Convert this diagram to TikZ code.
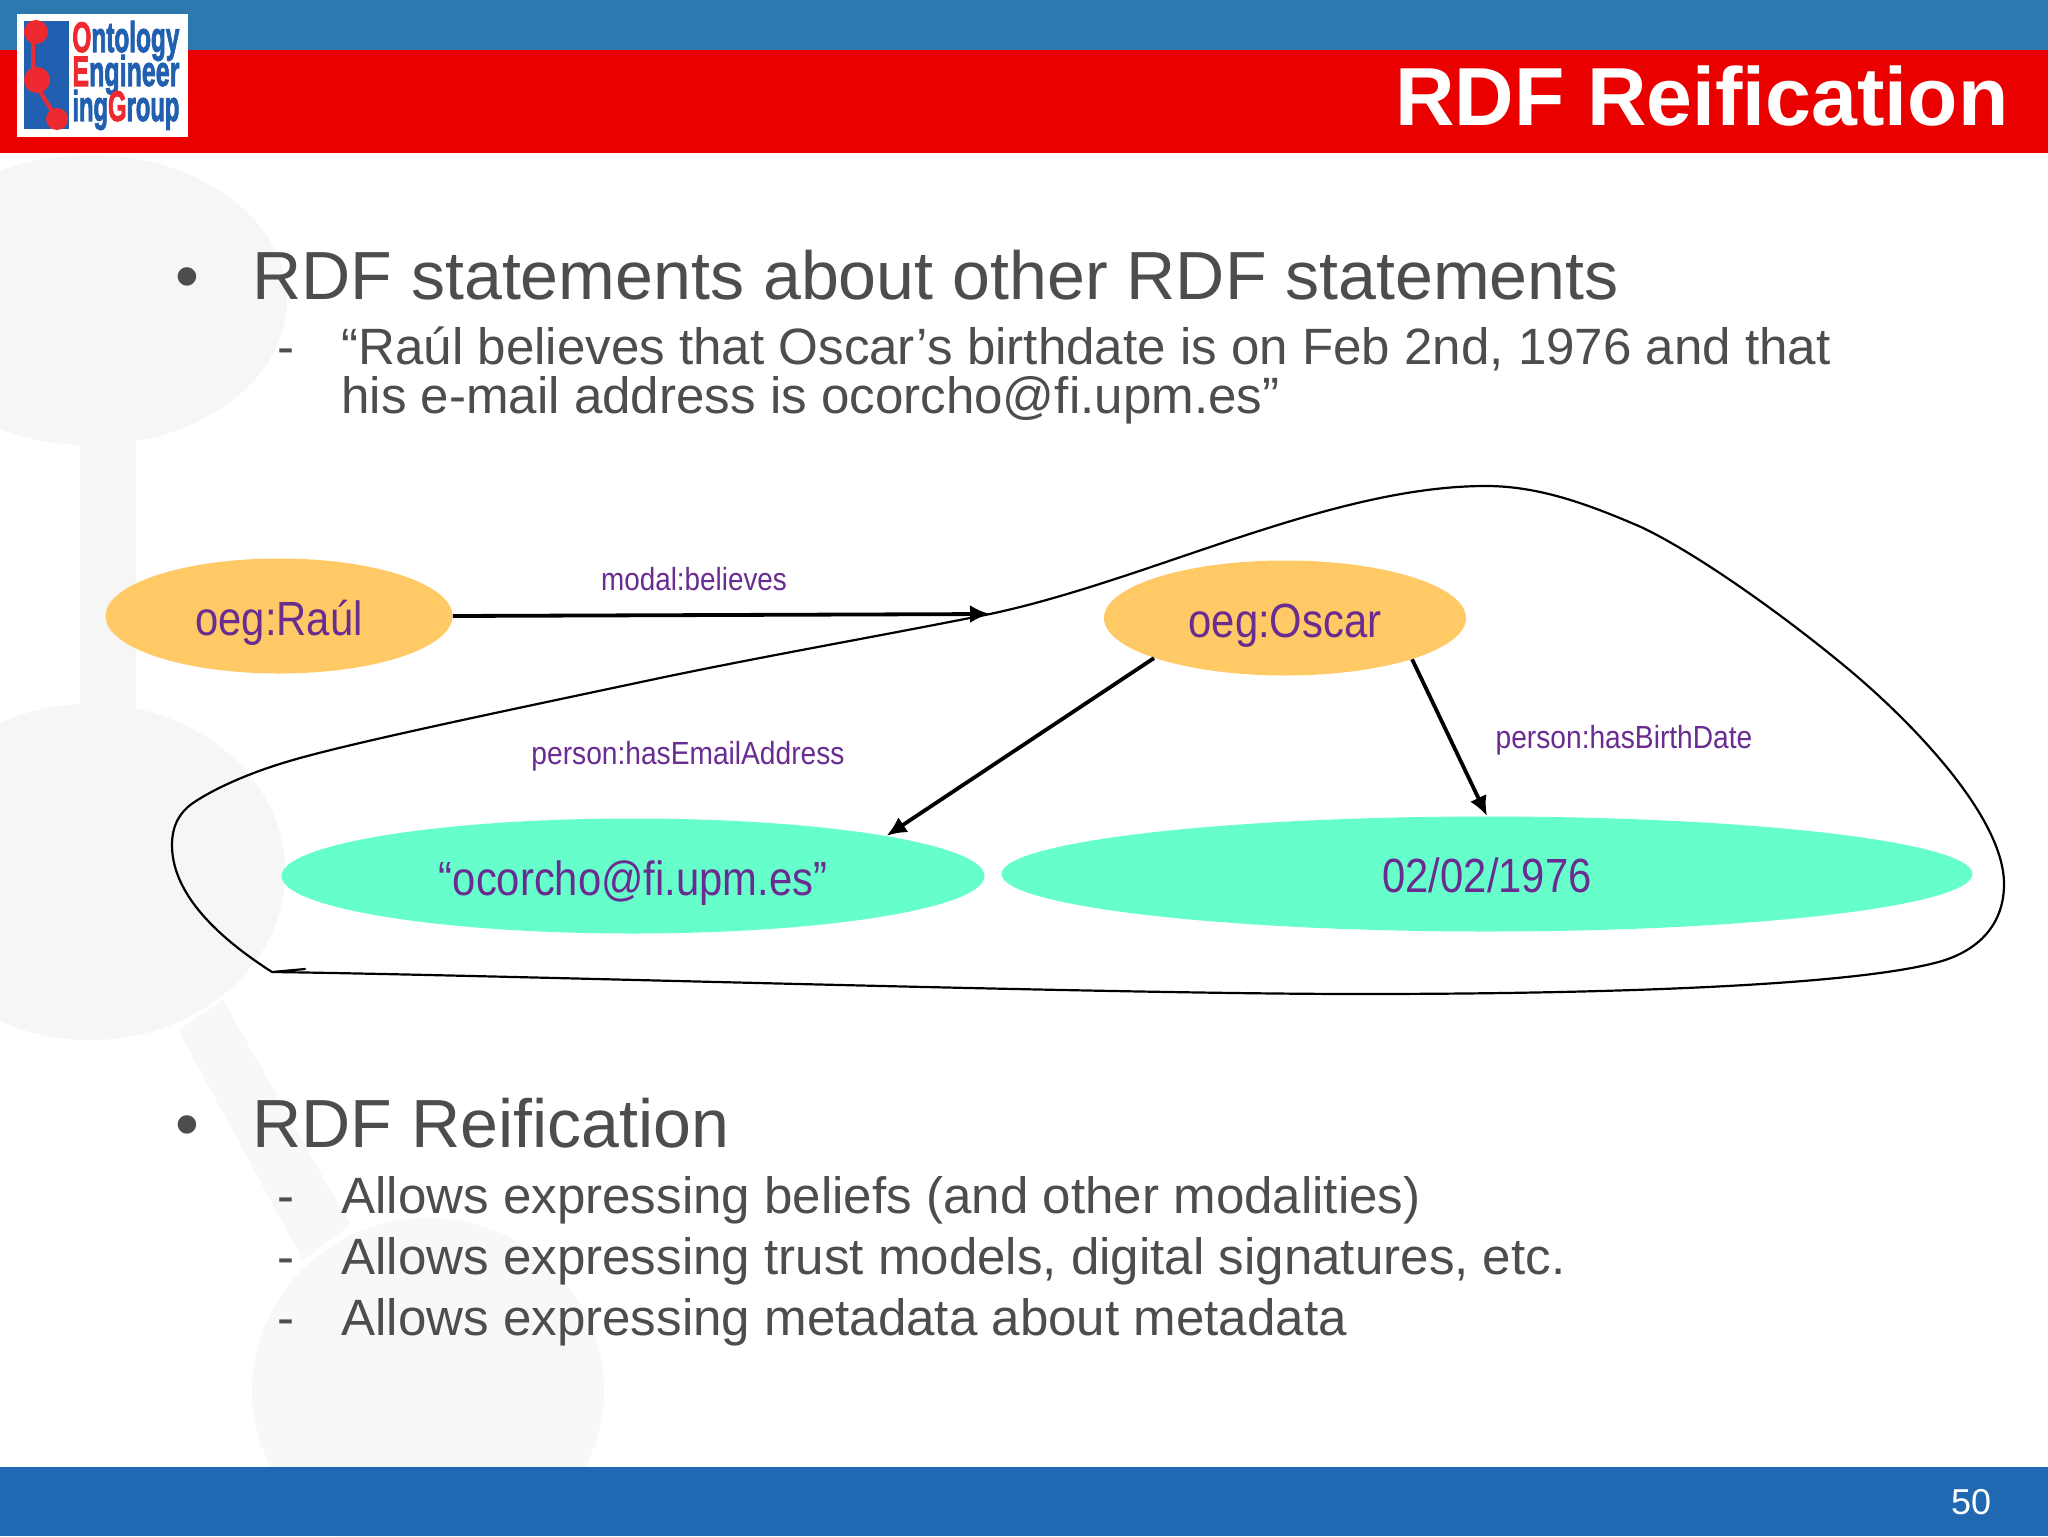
\documentclass[tikz,border=0pt]{standalone}
\usepackage{fontspec}
\usepackage{graphicx}
\setmainfont{Liberation Sans}
\newfontfamily\logof[BoldFeatures={FakeBold=2.5}]{Liberation Sans}
\usetikzlibrary{shapes.geometric,arrows.meta}
\definecolor{topblue}{HTML}{2E78B0}
\definecolor{botblue}{HTML}{2168B2}
\definecolor{hdred}{HTML}{EB0000}
\definecolor{wm}{HTML}{F7F6F7}
\definecolor{wmb}{HTML}{F9F8F9}
\definecolor{bodygray}{HTML}{4D4D4D}
\definecolor{purp}{HTML}{6A2C91}
\definecolor{orangefill}{HTML}{FFC966}
\definecolor{tealfill}{HTML}{66FFCC}
\definecolor{logoblue}{HTML}{2160B0}
\definecolor{logored}{HTML}{EE2A30}
\newcommand{\fs}[1]{\fontsize{#1pt}{#1pt}\selectfont}
\newcommand{\cond}[2]{\scalebox{#1}[1]{#2}}
\newcommand{\lowered}[2]{\raisebox{-#1pt}[0pt][0pt]{\scalebox{0.87}[1]{#2}}}
\newcommand{\logoline}[1]{\resizebox{53.5pt}{15.5pt}{\logof\bfseries #1}}
\tikzset{
  x=0.5pt,y=-0.5pt,
  body/.style={anchor=base west,inner sep=0pt,text=bodygray},
  lvlone/.style={body,font=\fs{34.05}},
  lvltwo/.style={body,font=\fs{25.55}},
  res/.style={ellipse,draw=none,fill=orangefill,text=purp,inner sep=0pt,minimum height=57.5pt,font=\fs{24}},
  lit/.style={res,fill=tealfill},
  prop/.style={text=purp,inner sep=0pt,font=\fs{16}},
  conn/.style={line width=1.9pt,-{Latex[length=10pt,width=9pt]}},
  sketch/.style={line width=1.1pt,line cap=round,line join=round},
}
\begin{document}
\begin{tikzpicture}
\useasboundingbox (0,0) rectangle (2048,1536);
\fill[white] (0,0) rectangle (2048,1536);
% watermark
\fill[wm] (90,300) ellipse [x radius=197,y radius=145];
\fill[wm] (80,430) rectangle (136,720);
\fill[wm] (90,872) ellipse [x radius=195,y radius=168];
\fill[wmb] (178,1030) -- (223,1000) -- (350,1225) -- (303,1260) -- cycle;
\fill[wmb] (428,1390) ellipse [x radius=176,y radius=172];
% bands
\fill[topblue] (0,0) rectangle (2048,50);
\fill[hdred] (0,50) rectangle (2048,153);
\fill[botblue] (0,1467) rectangle (2048,1536);
% logo
\fill[white] (17,14) rectangle (188,137);
\fill[logoblue] (24,21) rectangle (69,129);
\draw[logored,line width=2pt] (33,32) -- (33,80) -- (57,119);
\fill[logored] (36,32) circle [radius=12];
\fill[logored] (37,80) circle [radius=13];
\fill[logored] (57,119) circle [radius=11];
\node (l1) [anchor=west,inner sep=0pt,text=logoblue] at (72,41) {\logoline{\textcolor{logored}{O}ntology}};
\node (l2) [anchor=west,inner sep=0pt,text=logoblue] at (72,75) {\logoline{\textcolor{logored}{E}ngineer}};
\node (l3) [anchor=west,inner sep=0pt,text=logoblue] at (72,110) {\logoline{ing\textcolor{logored}{G}roup}};
% header
\node (title) [anchor=base east,inner sep=0pt,text=white,font=\fs{41.2}\bfseries] at (2009,126) {RDF Reification};
\node (pageno) [inner sep=0pt,text=white,font=\fs{18}] at (1971,1502) {50};
% body
\node (b1) [lvlone] at (175,299) {•};
\node (t1) [lvlone] at (252,299) {RDF statements about other RDF statements};
\node (d1) [lvltwo] at (277,364) {-};
\node (t2) [lvltwo] at (341,364) {“Raúl believes that Oscar’s birthdate is on Feb 2nd, 1976 and that};
\node (t3) [lvltwo] at (341,413) {his e-mail address is ocorcho@fi.upm.es”};
\node (b2) [lvlone] at (175,1147) {•};
\node (t4) [lvlone] at (252,1147) {RDF Reification};
\node (d2) [lvltwo] at (277,1213) {-};
\node (t5) [lvltwo] at (341,1213) {Allows expressing beliefs (and other modalities)};
\node (d3) [lvltwo] at (277,1274) {-};
\node (t6) [lvltwo] at (341,1274) {Allows expressing trust models, digital signatures, etc.};
\node (d4) [lvltwo] at (277,1335) {-};
\node (t7) [lvltwo] at (341,1335) {Allows expressing metadata about metadata};
% graph
\node (raul) [res,minimum width=173.5pt] at (279,616) {\lowered{9.8}{oeg:Raúl}};
\node (oscar) [res,minimum width=181pt] at (1285,618) {\lowered{9.9}{oeg:Oscar}};
\node (email) [lit,minimum width=351.5pt] at (633,876) {\lowered{9.8}{“ocorcho@fi.upm.es”}};
\node (date) [lit,minimum width=485.5pt] at (1487,874) {\lowered{9.2}{02/02/1976}};
\coordinate (apex) at (990,614);
\coordinate (tick) at (305,969);
\coordinate (cs) at (272,972);
\draw[sketch] (cs) .. controls (230,945) and (172,900) .. (172,845)
  .. controls (172,825) and (180,812) .. (193,803)
  .. controls (215,788) and (250,773) .. (283,763)
  .. controls (340,745) and (500,712) .. (660,678)
  .. controls (770,655) and (880,636) .. (apex)
  .. controls (1150,580) and (1330,486) .. (1486,486)
  .. controls (1540,486) and (1590,505) .. (1641,527)
  .. controls (1700,555) and (1790,620) .. (1853,673)
  .. controls (1920,730) and (2004,820) .. (2004,884)
  .. controls (2004,925) and (1978,950) .. (1942,961)
  .. controls (1860,985) and (1620,994) .. (1360,994)
  .. controls (1100,994) and (500,975) .. (cs) -- (tick);
\draw[conn] (raul.east) -- (apex);
\draw[conn] (oscar.197) -- (email.9.6);
\draw[conn] (oscar.-18) -- (date.90);
\node (p1) [prop] at (694,579) {\cond{0.87}{modal:believes}};
\node (p2) [prop] at (688,756) {\cond{0.88}{person:hasEmailAddress}};
\node (p3) [prop] at (1624,740) {\cond{0.88}{person:hasBirthDate}};
\end{tikzpicture}
\end{document}
